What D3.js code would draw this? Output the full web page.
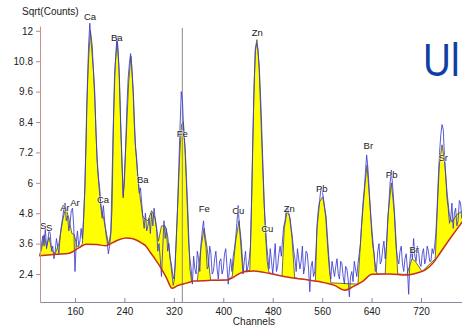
<!DOCTYPE html>
<html><head><meta charset="utf-8">
<script src="https://cdn.jsdelivr.net/npm/d3@7"></script>
<style>body{margin:0;background:#fff;overflow:hidden} svg{display:block}</style>
</head><body>
<svg id="c" width="462" height="329"></svg>
<script>
// ---------- data ----------
const xTicks = [160,240,320,400,480,560,640,720];
const yTicks = [2.4,3.6,4.8,6,7.2,8.4,9.6,10.8,12];
const rawStart = 104, rawStep = 2;
const rawCounts = [
// 104-170
3.2,3.6,3.9,3.5,4.2,3.4,3.7,4.1,4.0,3.3,3.5,3.0,3.3,3.8,3.5,3.2,3.9,4.3,4.6,5.0,5.2,4.5,4.7,4.1,4.4,4.9,5.0,4.3,2.5,3.6,4.1,3.5,3.7,4.2,
// 172-216
3.8,4.6,5.9,7.6,9.8,11.4,12.3,11.6,11.0,10.4,9.6,8.0,6.8,6.2,5.8,5.0,4.6,5.1,4.5,4.0,3.7,3.2,3.5,
// 218-276
4.0,5.0,8.0,10.2,11.0,11.8,11.2,10.1,8.2,6.8,5.5,6.0,7.4,9.0,10.1,10.7,11.1,10.6,9.6,8.3,7.4,6.9,6.1,5.6,5.8,5.2,4.6,4.2,4.8,4.1,
// 278-320
4.3,4.6,4.0,4.8,4.3,5.0,4.5,4.2,3.3,3.6,3.0,2.3,3.4,4.5,3.8,4.2,3.3,3.6,3.0,2.8,2.4,2.2,
// 322-348
2.7,3.8,5.0,6.6,8.2,9.6,9.2,8.0,7.4,6.2,4.9,3.6,3.0,2.6,
// 350-412
2.0,3.1,2.6,2.4,3.3,3.0,2.5,3.6,4.1,4.5,3.8,3.5,2.6,2.7,3.5,3.2,2.4,2.5,3.0,3.3,2.6,2.2,2.9,3.0,2.4,2.6,3.2,3.4,2.7,2.0,2.6,3.0,
// 414-446
2.5,3.1,3.4,3.8,4.4,5.1,4.3,3.7,3.0,2.4,2.9,3.3,2.5,2.7,3.0,3.5,5.5,
// 448-472
8.0,9.9,11.2,11.5,11.3,10.5,9.2,7.8,6.5,5.2,4.4,3.6,3.1,
// 474-516
2.6,3.4,2.9,2.4,3.0,3.6,2.5,2.7,3.2,3.5,3.1,3.8,4.3,4.5,5.0,5.0,4.8,4.6,4.2,3.8,3.3,3.0,
// 518-550
2.5,3.4,3.0,2.6,2.9,3.5,2.4,2.7,3.3,3.2,2.6,1.7,2.7,2.9,2.3,2.5,3.3,
// 552-572
4.4,5.0,5.3,5.8,5.7,5.4,5.0,4.6,3.8,3.1,2.5,
// 574-618
2.2,2.9,2.6,2.3,2.7,3.0,2.4,2.2,2.9,2.8,2.3,2.0,2.7,2.6,2.2,1.5,2.3,2.5,2.1,2.9,2.6,2.3,2.8,
// 620-662
3.2,3.6,4.4,5.2,5.7,6.4,7.1,6.6,5.8,4.9,4.1,3.5,3.2,2.5,2.6,3.3,3.6,2.8,2.9,3.4,3.7,3.0,
// 664-682
3.5,4.4,5.2,6.0,6.5,5.9,5.2,4.2,3.4,3.0,
// 684-742
2.8,3.3,3.5,2.8,2.5,3.0,3.2,2.6,1.6,2.9,3.4,3.0,3.8,3.1,2.9,3.5,3.3,2.8,2.7,3.2,3.4,2.8,3.0,3.5,3.3,2.9,2.9,3.4,3.2,3.5,
// 744-788
4.0,5.0,6.2,7.2,7.9,8.3,8.1,7.0,6.3,5.4,5.0,4.4,4.6,5.2,4.2,4.8,5.0,4.3,4.5,5.3,5.2,4.6,4.8
];
const fitChannels = [102,106,110,114,118,123,128,134,140,145,150,155,159,163,168,
172,176,179,182,185,188,192,195.5,198.5,202,207.5,214.5,
218,222,225,228,231,234.5,238,242.5,247,250.5,254.5,257.5,261.5,265,269.5,
272,278,284,290,295,300,306,310,315,319,
321,325.5,329.5,332.5,335.5,339,343,346,349,358,363.5,369,374,379.5,407,
414.5,420,425.5,429,432.5,443,445.3,447.6,449.5,451.8,454.5,458.3,461.5,464.3,467,469,471,474,
495,498.7,503,507,511,515.5,549,551.6,556,560.9,566.2,570.6,574,
618,623.4,628.8,632.6,636.3,640.7,645,648.7,662,666.5,671.9,677.4,682.3,
697,705.4,710.7,721.6,743,745.9,749.6,754,758.3,762,765.8,770,778,788];
const fitValues = [3.12,3.4,3.95,3.5,3.85,3.3,3.2,3.6,4.5,5.05,4.6,4.0,3.95,3.5,3.45,
3.6,5.7,9.0,10.9,12.0,11.4,9.3,7.1,5.9,5.1,4.45,3.55,
4.05,8.3,10.6,11.6,10.6,8.0,5.4,7.6,10.0,11.0,9.6,7.6,6.3,5.5,4.7,
4.6,4.5,4.9,4.6,3.7,4.3,4.3,3.9,2.8,1.95,
2.2,4.7,7.1,8.3,8.4,7.0,4.7,2.6,2.05,2.13,3.4,4.2,3.4,2.15,2.16,
2.3,3.7,4.5,3.7,2.5,2.55,4.7,7.3,9.5,11.3,11.65,10.6,8.7,6.6,4.7,3.7,2.9,2.45,
2.3,4.2,4.85,4.7,3.9,2.25,2.1,4.2,5.25,5.45,4.7,3.15,2.05,
2.0,4.2,5.8,6.7,5.5,4.1,2.9,2.4,2.4,4.7,6.0,4.7,2.4,
2.38,3.0,2.9,2.5,3.0,4.7,6.7,7.5,6.8,5.65,4.75,4.45,4.75,4.9];
const bgChannels = [102,130,151,167,178,195,210,221,232,243,252,259,268,275,282,290,298,308,317,326,
340,353,380,407,413,425,434,450,475,500,530,555,580,597,610,625,641,670,695,715,727,740,750,770,788];
const bgValues = [3.12,3.18,3.22,3.44,3.57,3.56,3.52,3.64,3.76,3.82,3.80,3.74,3.62,3.50,3.25,2.98,2.68,2.25,1.84,1.94,
2.04,2.12,2.15,2.16,2.23,2.40,2.49,2.52,2.42,2.29,2.19,2.10,1.95,1.76,1.90,2.10,2.39,2.40,2.36,2.45,2.56,2.85,3.2,3.9,4.5];
const peakNames = ["S","S","Ar","Ar","Ca","Ca","Ba","Ba","Fe","Fe","Cu","Zn","Cu","Zn","Pb","Br","Pb","Br","Sr"];
const peakLabelChannels = [108.7,118.4,143.8,160,184.3,205.3,227.5,269.6,333.7,369.3,424.3,455,471.2,506.8,559.3,634.7,672.5,709.1,756];
const peakLabelValues = [4.29,4.22,5.01,5.2,12.55,5.32,11.72,6.11,7.95,4.99,4.9,11.94,4.2,4.99,5.78,7.45,6.31,3.35,7.0];
const markerChannel = 333.7;

// ---------- drawing ----------
const svg = d3.select("#c");
const FONT = "'Liberation Sans', Arial, sans-serif";
const x = d3.scaleLinear().domain([103.4, 786.3]).range([40, 462]);
const y = d3.scaleLinear().domain([1.295, 12.19]).range([302, 26]);

const raw = rawCounts.map((v,i)=>({c: rawStart + i*rawStep, v}));
const fit = fitChannels.map((c,i)=>({c, v: fitValues[i]}));
const bg = bgChannels.map((c,i)=>({c, v: bgValues[i]}));

// clip above background
svg.append("clipPath").attr("id","aboveBg").append("path")
  .attr("d", d3.area().x(d=>x(d.c)).y0(0).y1(d=>y(d.v)).curve(d3.curveMonotoneX)(bg));

// yellow fitted peaks
svg.append("path")
  .attr("d", d3.area().x(d=>x(d.c)).y0(y.range()[0]).y1(d=>y(d.v))(fit))
  .attr("fill", "#ffff00")
  .attr("clip-path","url(#aboveBg)");
svg.append("path")
  .attr("d", d3.line().x(d=>x(d.c)).y(d=>y(d.v))(fit))
  .attr("fill","none").attr("stroke","#4a4a3a").attr("stroke-width",0.8)
  .attr("clip-path","url(#aboveBg)");

// marker line
svg.append("line")
  .attr("x1", x(markerChannel)).attr("x2", x(markerChannel))
  .attr("y1", 28).attr("y2", 302)
  .attr("stroke","#8a8a8a").attr("stroke-width",1);

// raw spectrum
svg.append("path")
  .attr("d", d3.line().x(d=>x(d.c)).y(d=>y(d.v))(raw))
  .attr("fill","none").attr("stroke","#3b3bd0").attr("stroke-width",0.85);

// background
svg.append("path")
  .attr("d", d3.line().x(d=>x(d.c)).y(d=>y(d.v)).curve(d3.curveMonotoneX)(bg))
  .attr("fill","none").attr("stroke","#c8301e").attr("stroke-width",1.5);

// axes
const gx = svg.append("g").attr("transform","translate(0,302)");
const xMinor = [];
for (let t = 80; t <= 800; t += 80/3) if (t > 104 && t < 786) xMinor.push(t);
gx.call(d3.axisBottom(x).tickValues(xMinor).tickSizeInner(-2.5).tickSizeOuter(0).tickFormat(""));
gx.call(d3.axisBottom(x).tickValues(xTicks).tickSizeInner(-4).tickSizeOuter(0).tickPadding(6).tickFormat(d=>String(d)));
gx.selectAll("path.domain").attr("stroke","#8a8a9c");
gx.selectAll("line").attr("stroke","#8a8a9c");
gx.selectAll("text").attr("font-family",FONT).attr("font-size","10px").attr("fill","#222");

const gy = svg.append("g").attr("transform","translate(40,0)");
const yMinor = [];
for (let t = 1.4; t <= 12.1; t += 0.2) yMinor.push(+t.toFixed(2));
gy.call(d3.axisLeft(y).tickValues(yMinor).tickSizeInner(-2.5).tickSizeOuter(0).tickFormat(""));
gy.call(d3.axisLeft(y).tickValues(yTicks).tickSizeInner(4).tickSizeOuter(0).tickPadding(3).tickFormat(d=>String(d)));
gy.selectAll("path.domain").attr("stroke","#c89090");
gy.selectAll("line").attr("stroke","#c08888");
gy.selectAll("text").attr("font-family",FONT).attr("font-size","10px").attr("fill","#222");

// axis titles
svg.append("text").attr("x",22).attr("y",15).text("Sqrt(Counts)")
  .attr("font-family",FONT).attr("font-size","10px").attr("fill","#222");
svg.append("text").attr("x",254).attr("y",325).attr("text-anchor","middle").text("Channels")
  .attr("font-family",FONT).attr("font-size","10px").attr("fill","#222");

// peak labels
svg.append("g").selectAll("text").data(peakNames).join("text")
  .attr("x",(d,i)=>x(peakLabelChannels[i]))
  .attr("y",(d,i)=>y(peakLabelValues[i]))
  .attr("dy","0.35em")
  .attr("text-anchor","middle")
  .attr("font-family",FONT).attr("font-size","9.5px").attr("fill","#1a1a1a")
  .attr("stroke","rgba(255,255,255,0.6)").attr("stroke-width",1.5).attr("paint-order","stroke")
  .text(d=>d);

// cropped slide title
svg.append("text").attr("transform","translate(423,76) scale(0.84,1)")
  .attr("font-family",FONT).attr("font-size","46px").attr("fill","#0f3fa6")
  .text("Ul");
</script>
</body></html>
